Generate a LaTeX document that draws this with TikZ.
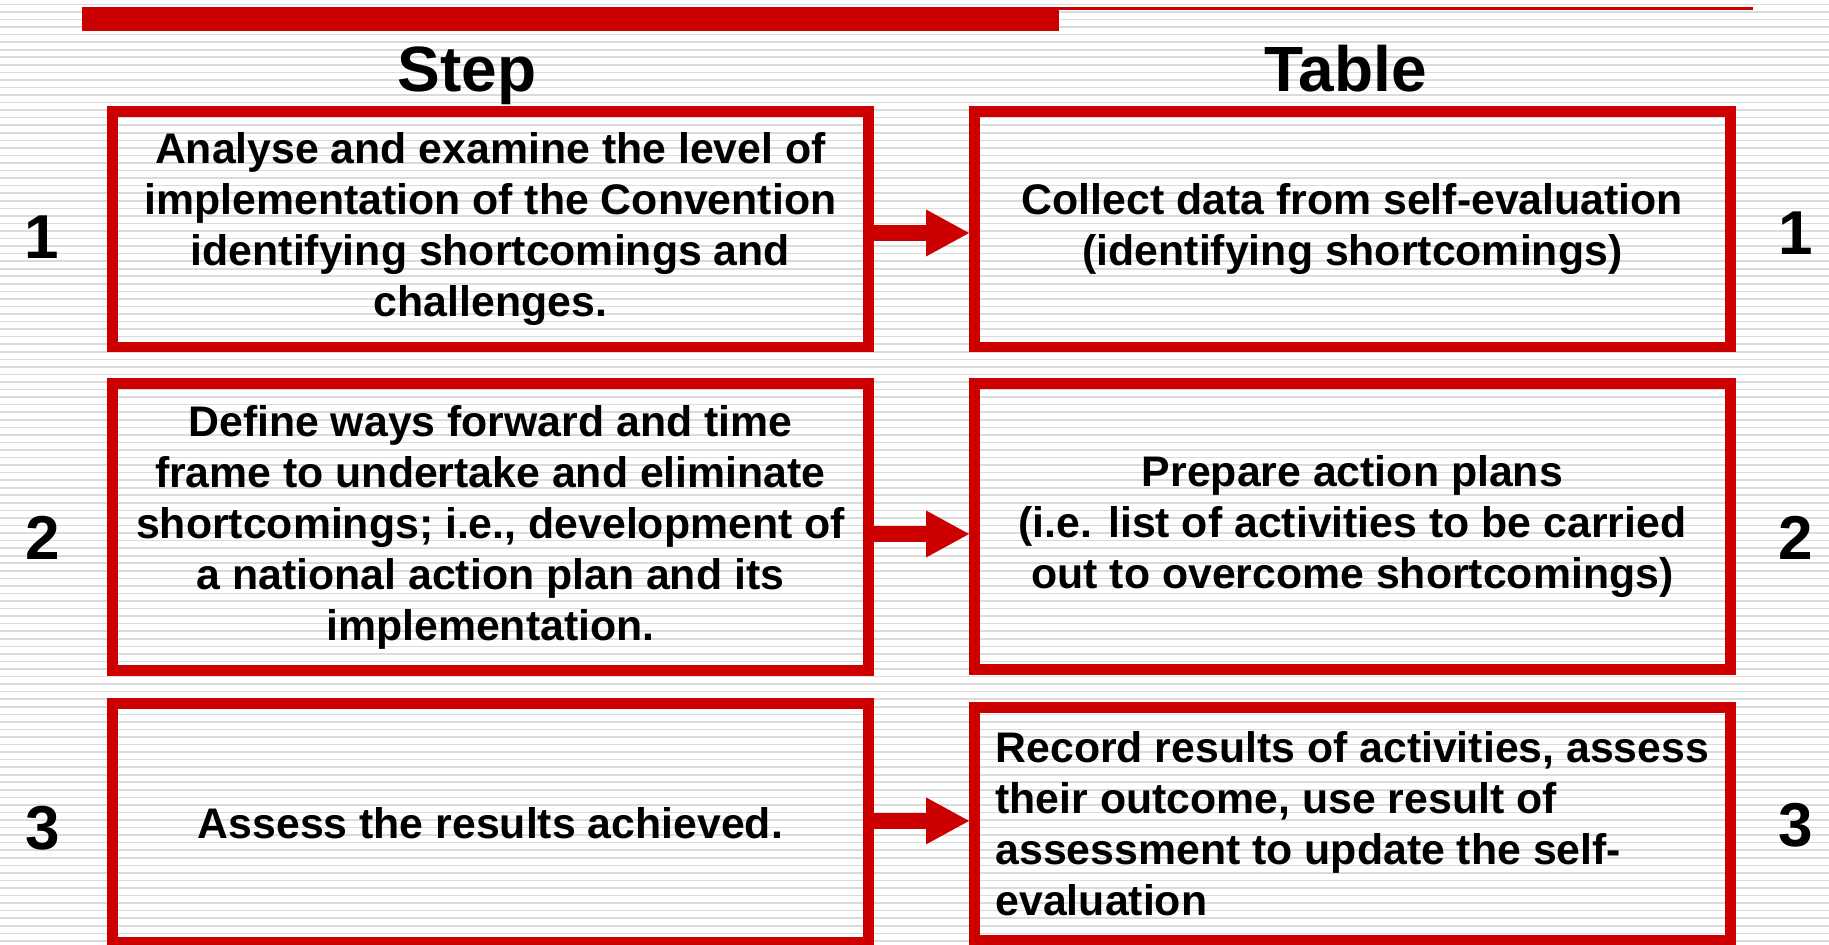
\documentclass[tikz,border=0pt]{standalone}
\usepackage{fontspec}
\setmainfont{Liberation Sans}
\usetikzlibrary{arrows.meta}
\definecolor{slidered}{RGB}{204,0,0}
\tikzset{>={Triangle[length=21.5pt,width=23.5pt,line width=0pt]}}
\tikzset{
  box/.style={draw=slidered, line width=5.35pt, inner sep=0pt, minimum width=378pt,
    align=center, font=\bfseries\fontsize{21.4}{25.5}\selectfont},
  num/.style={font=\bfseries\fontsize{31}{36}\selectfont},
  head/.style={anchor=base, font=\bfseries\fontsize{32}{36}\selectfont},
  link/.style={->, draw=slidered, line width=8pt}
}

\begin{document}
\begin{tikzpicture}[x=1pt, y=-1pt]

  \newcommand\X{431}
  \newcommand\gap{3.776}

  \useasboundingbox[fill=white] (0,0) rectangle (914.5,472);
  % striped background
  \foreach \k in {0,...,124}
    \draw[gray!28, line width=0.8pt] (0, 2.2+\k*\gap) -- (914.5, 2.2+\k*\gap);

  % bar on top
  \fill[slidered] (40.8, 3.35) rectangle (876.5, 4.85);
  \fill[slidered] (40.8, 5) rectangle (529.5, 15.5);

  \node[head] (step) at (233.5, 45.5) {Step};
  \node[head] (table) at (672.8, 45.5) {Table};

  % row 1
  \node[box, minimum height=117.9pt] (s1) at (245.2, 114.6)
    {Analyse and examine the level of\\implementation of the Convention\\identifying shortcomings and\\challenges.};
  \node[box, minimum height=117.9pt] (t1) at (245.2+\X, 114.6)
    {Collect data from self-evaluation\\(identifying shortcomings)};
  \node[num] (n1) at (21, 118.5) {1};
  \node[num] (m1) at (898, 116.5) {1};

  % row 2
  \node[box, minimum height=143.4pt] (s2) at (245.2, 263.55)
    {Define ways forward and time\\frame to undertake and eliminate\\shortcomings; i.e., development of\\a national action plan and its\\implementation.};
  \node[box, minimum height=142.8pt] (t2) at (245.2+\X, 263.25)
    {Prepare action plans\\(i.e. list of activities to be carried\\out to overcome shortcomings)};
  \node[num] (n2) at (21.5, 269) {2};
  \node[num] (m2) at (898, 269) {2};

  % row 3
  \node[box, minimum height=119.1pt] (s3) at (245.2, 411.45)
    {Assess the results achieved.};
  \node[box, minimum height=116.1pt, align=left] (t3) at (245.2+\X, 411.95)
    {Record results of activities, assess\\their outcome, use result of\\assessment to update the self-\\evaluation};
  \node[num] (n3) at (21.5, 414) {3};
  \node[num] (m3) at (898, 412.5) {3};

  \draw[link] ([yshift=-1.9pt]s1.east) -- ([yshift=-1.9pt]t1.west); %% 1->1
  \draw[link] ([yshift=-3.45pt]s2.east) -- ([yshift=-3.75pt]t2.west); %% 2->2
  \draw[link] ([yshift=1pt]s3.east) -- ([yshift=1.5pt]t3.west); %% 3->3

\end{tikzpicture}
\end{document}
